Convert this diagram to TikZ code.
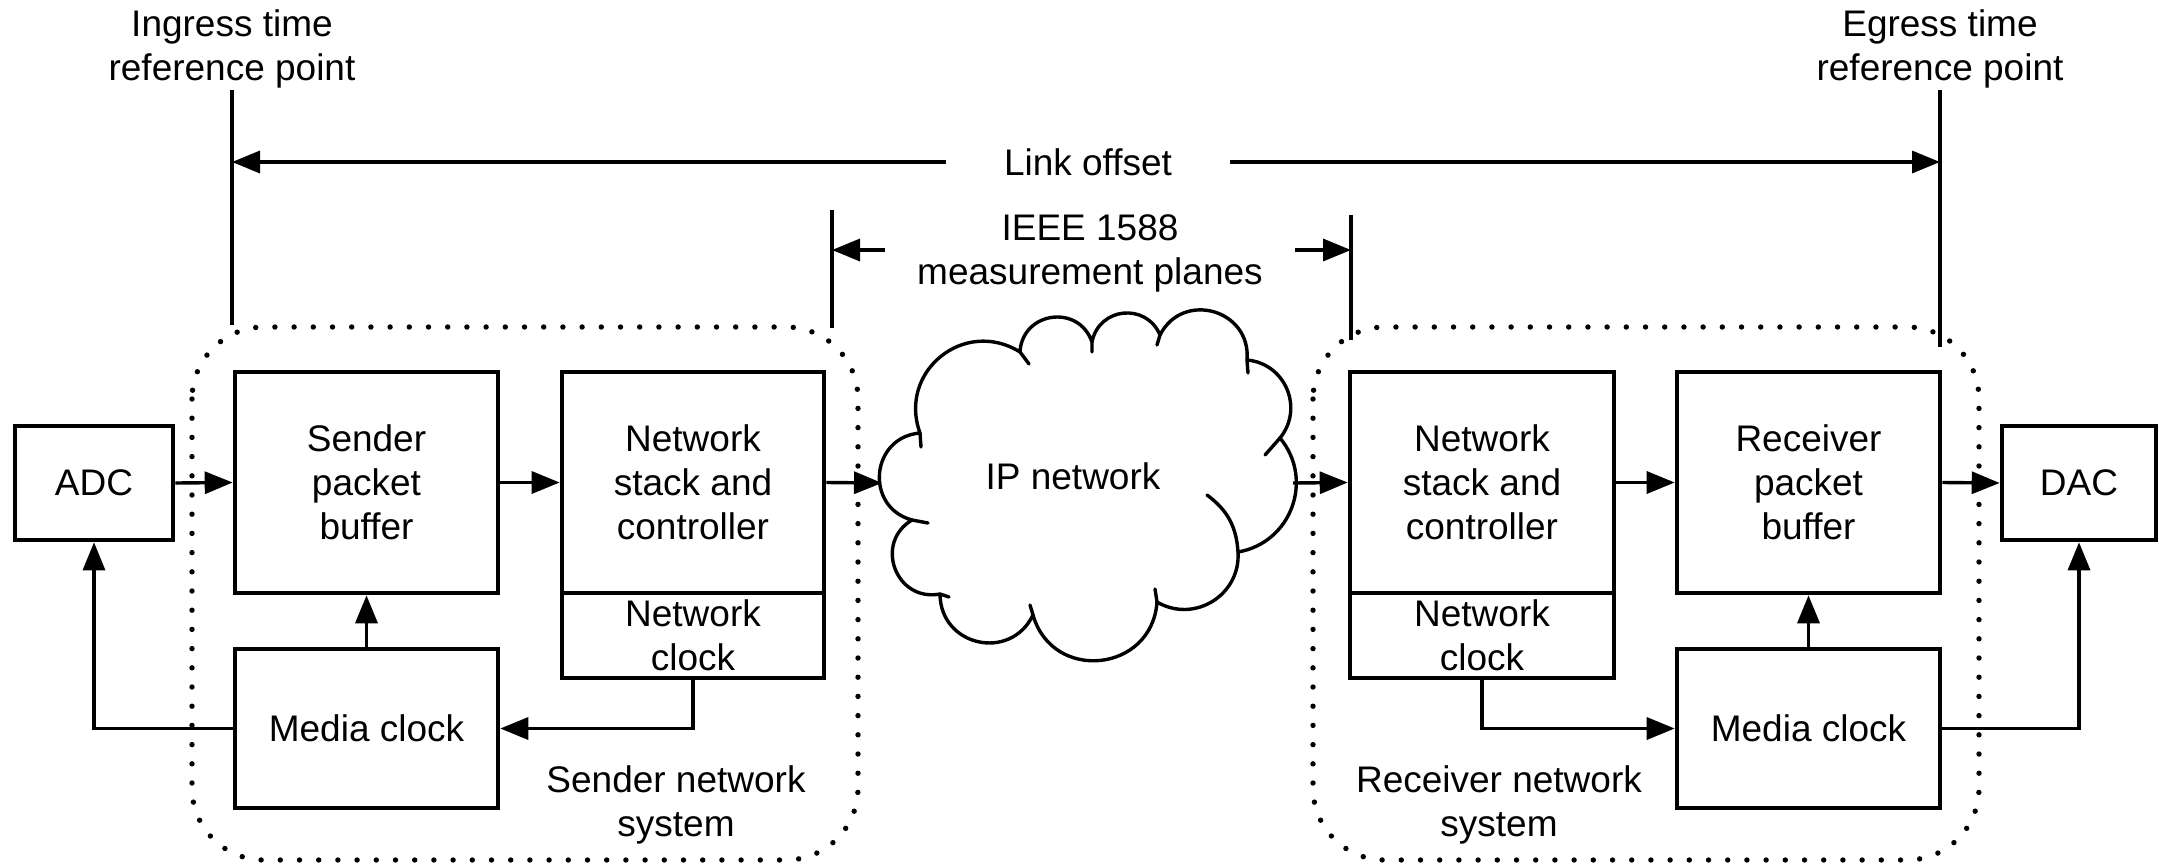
\documentclass[tikz,border=0pt]{standalone}
\usepackage{fontspec}
\setmainfont{Liberation Sans}
\usetikzlibrary{arrows.meta}
\begin{document}
\begin{tikzpicture}[x=0.5pt,y=-0.5pt,
  font=\fontsize{18.5}{22}\selectfont,
  box/.style={draw, line width=2.3pt, align=center, inner sep=0pt},
  lbl/.style={align=center, inner sep=0pt},
  arr/.style={line width=1.7pt, -{Triangle[length=14pt,width=11pt]}},
  refline/.style={line width=1.6pt},
  dotbound/.style={line width=2.7pt, line cap=round, dash pattern=on 0pt off 9.6pt, rounded corners=36pt},
  cloudline/.style={line width=1.7pt, line join=round, line cap=round}
]
\useasboundingbox[fill=white] (0,0) rectangle (2159,863);

% boundaries
\draw[dotbound] (192,327) rectangle (858,860);
\draw[dotbound] (1313,327) rectangle (1979,860);

% boxes
\node[box, minimum width=79pt, minimum height=57pt] (adc) at (94,483) {ADC};
\node[box, minimum width=131.5pt, minimum height=110.5pt] (sbuf) at (366.5,482.5) {Sender\\packet\\buffer};
\node[box, minimum width=131pt, minimum height=110.5pt] (sstack) at (693,482.5) {Network\\stack and\\controller};
\node[box, minimum width=131pt, minimum height=42.5pt] (sclk) at (693,635.5) {Network\\clock};
\node[box, minimum width=131.5pt, minimum height=79.5pt] (smc) at (366.5,728.5) {Media clock};

\node[box, minimum width=132pt, minimum height=110.5pt] (rstack) at (1482,482.5) {Network\\stack and\\controller};
\node[box, minimum width=132pt, minimum height=42.5pt] (rclk) at (1482,635.5) {Network\\clock};
\node[box, minimum width=131.5pt, minimum height=110.5pt] (rbuf) at (1808.5,482.5) {Receiver\\packet\\buffer};
\node[box, minimum width=131.5pt, minimum height=79.5pt] (rmc) at (1808.5,728.5) {Media clock};
\node[box, minimum width=77pt, minimum height=57pt] (dac) at (2079,483) {DAC};

% cloud
\draw[cloudline] (912,520) to[bend left=80,looseness=1.45] (920,433)
 to[bend left=71,looseness=1.3] (1020,352)
 to[bend left=79,looseness=1.43] (1092,342)
 to[bend left=73,looseness=1.33] (1160,335)
 to[bend left=79,looseness=1.43] (1247,360)
 to[bend left=62,looseness=1.16] (1280,438)
 to[bend left=60,looseness=1.14] (1238,552)
 to[bend left=62,looseness=1.16] (1157,602)
 to[bend left=80,looseness=1.45] (1033,615)
 to[bend left=77,looseness=1.4] (940,594)
 to[bend left=80,looseness=1.45] (912,520) -- cycle;
% cloud overshoot ticks
\draw[cloudline] (912,520) -- (928,523)
  (920,433) -- (921,447)
  (1020,352) -- (1029,364)
  (1092,342) -- (1092,352)
  (1160,335) -- (1157,345)
  (1247,360) -- (1248,373)
  (1280,438) -- (1265,455)
  (1238,552) to[bend right=25] (1207,495)
  (1157,602) -- (1155,589)
  (1033,615) -- (1030,605)
  (940,594) -- (949,597);
\node[lbl] (ip) at (1073,476) {IP network};
\coordinate (cL) at (882,483);
\coordinate (cR) at (1293,483);

% data flow
\draw[arr] (adc.east) -- (sbuf.west);
\draw[arr] (sbuf.east) -- (sstack.west);
\draw[arr] (sstack.east) -- (cL);
\draw[arr] (cR) -- (rstack.west);
\draw[arr] (rstack.east) -- (rbuf.west);
\draw[arr] (rbuf.east) -- (dac.west);

% clocks
\draw[arr] (smc.north) -- (sbuf.south);
\draw[arr] (rmc.north) -- (rbuf.south);
\draw[arr] (sclk.south) |- (smc.east);
\draw[arr] (rclk.south) |- (rmc.west);
\draw[arr] (smc.west) -| (adc.south);
\draw[arr] (rmc.east) -| (dac.south);

% reference points
\node[lbl] (ingress) at (232,49) {Ingress time\\reference point};
\node[lbl] (egress) at (1940,49) {Egress time\\reference point};
\coordinate (ingT) at (232,90);
\coordinate (ingB) at (232,325);
\coordinate (egT) at (1940,90);
\coordinate (egB) at (1940,347);
\draw[refline] (ingT) -- (ingB);
\draw[refline] (egT) -- (egB);

\node[lbl, inner xsep=29pt] (lo) at (1088,162) {Link offset};
\draw[arr] (lo.west) -- (ingT |- lo.west);
\draw[arr] (lo.east) -- (egT |- lo.east);

% measurement planes
\node[lbl] (ieee) at (1090,253) {IEEE 1588\\measurement planes};
\coordinate (plT) at (832,210);
\coordinate (plB) at (832,328);
\coordinate (prT) at (1351,215);
\coordinate (prB) at (1351,340);
\draw[refline] (plT) -- (plB);
\draw[refline] (prT) -- (prB);
\coordinate (plTail) at (885,250);
\coordinate (prTail) at (1295,250);
\draw[arr] (plTail) -- (plTail -| plT);
\draw[arr] (prTail) -- (prTail -| prT);

% system labels
\node[lbl] (sns) at (676,805) {Sender network\\system};
\node[lbl] (rns) at (1499,805) {Receiver network\\system};
\end{tikzpicture}
\end{document}
